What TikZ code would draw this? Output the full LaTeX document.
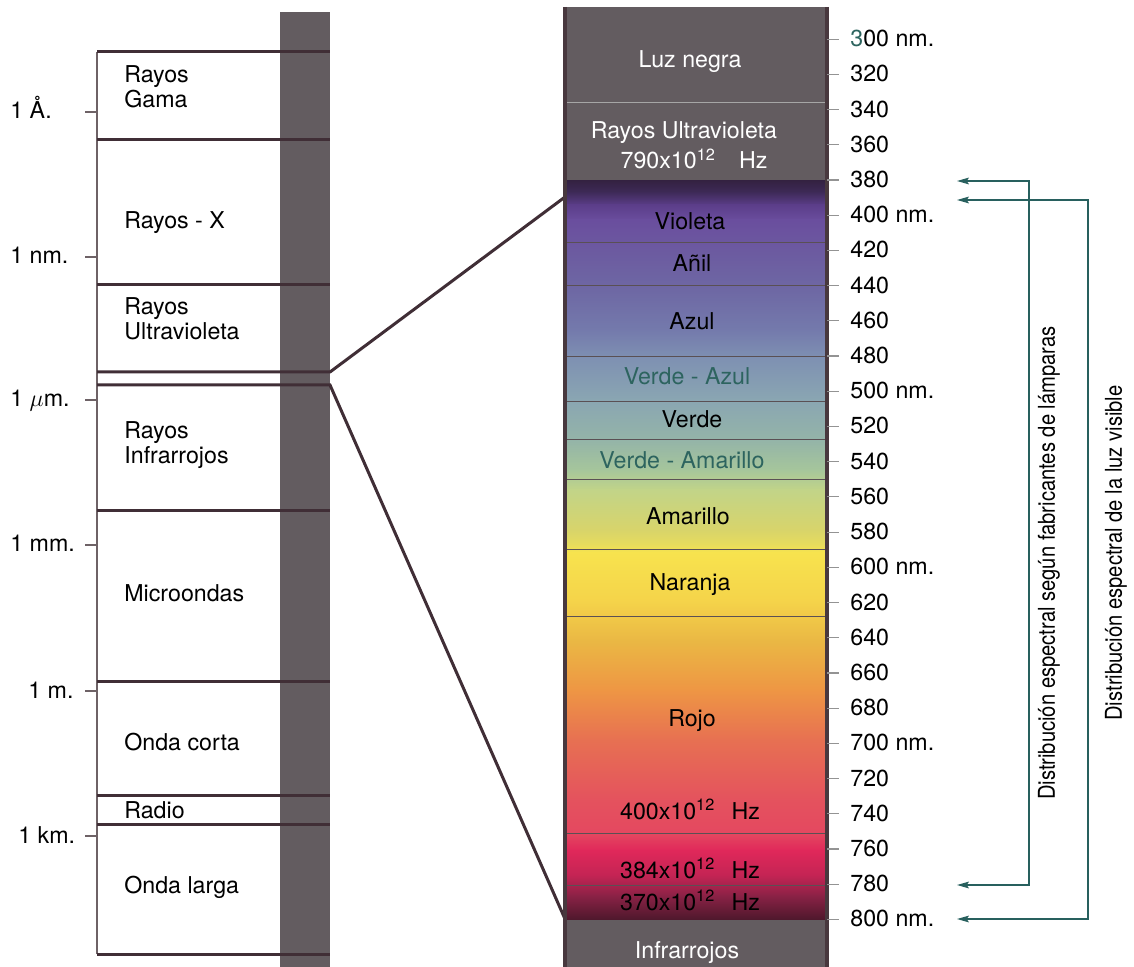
\documentclass[tikz,border=0pt]{standalone}
\usepackage{fontspec}
\setmainfont{TeX Gyre Heros}
\newfontfamily\estrecha[FakeStretch=0.87]{TeX Gyre Heros}
\usetikzlibrary{positioning, arrows.meta}
\definecolor{barra}{RGB}{99,92,96}
\definecolor{lineaosc}{RGB}{64,46,54}
\definecolor{lineagris}{RGB}{110,98,102}
\definecolor{bandagris}{RGB}{90,80,84}
\definecolor{marcoosc}{RGB}{72,56,62}
\definecolor{verdeazul}{RGB}{45,100,95}
\definecolor{verdeflecha}{RGB}{40,96,94}
% colores del espectro
\definecolor{c181}{RGB}{52,34,66}
\definecolor{c192}{RGB}{62,42,88}
\definecolor{c205}{RGB}{92,62,138}
\definecolor{c220}{RGB}{106,78,158}
\definecolor{c250}{RGB}{108,90,160}
\definecolor{c290}{RGB}{110,104,164}
\definecolor{c330}{RGB}{116,122,172}
\definecolor{c357}{RGB}{126,144,178}
\definecolor{c400}{RGB}{138,166,178}
\definecolor{c440}{RGB}{148,180,168}
\definecolor{c470}{RGB}{166,198,155}
\definecolor{c490}{RGB}{194,212,136}
\definecolor{c530}{RGB}{216,212,106}
\definecolor{c545}{RGB}{232,220,92}
\definecolor{c552}{RGB}{247,227,78}
\definecolor{c600}{RGB}{245,212,74}
\definecolor{c640}{RGB}{234,184,68}
\definecolor{c690}{RGB}{238,150,68}
\definecolor{c740}{RGB}{231,112,82}
\definecolor{c800}{RGB}{228,82,94}
\definecolor{c833}{RGB}{228,72,96}
\definecolor{c850}{RGB}{224,40,90}
\definecolor{c875}{RGB}{196,36,84}
\definecolor{c895}{RGB}{140,34,70}
\definecolor{c919}{RGB}{78,24,44}
\tikzset{
texto/.style={
  font=\fontsize{11.6}{12.25}\selectfont,
  inner sep=0pt, align=left
  },
claro/.style={texto, text=white, anchor=base},
espectro/.style={texto, anchor=base},
girado/.style={font=\estrecha\fontsize{11.6}{12}\selectfont, inner sep=0pt, rotate=90},
limite/.style={draw=lineaosc, line width=1.5pt},
guia/.style={draw=lineagris, line width=0.75pt},
marcador/.style={draw=gray!85, line width=0.6pt},
banda/.style={draw=bandagris, line width=0.5pt},
marco/.style={draw=marcoosc, line width=2pt},
flecha/.style={<->, >={Stealth[length=6pt,width=3.4pt,inset=1.2pt]}, draw=verdeflecha, line width=0.6pt}
}
\begin{document}
\begin{tikzpicture}[x=0.5pt, y=-0.5pt]
\useasboundingbox (0,0) rectangle (1134,967);

% escala de longitudes de onda
\fill[barra] (280,12) rectangle (330,967);
\draw[guia] (97,52) -- (97,954);
\foreach \y in {52,140,285,510,681,795,824,954}
  \draw[limite] (97,\y) -- (330,\y);
\foreach \y/\x/\t in {112/10/{1 Å.}, 257/10/{1 nm.}, 400/10/{1 $\mu$m.}, 545/10/{1 mm.}, 691/28/{1 m.}, 836/18/{1 km.}}{
  \draw[guia] (85,\y) -- (97,\y);
  \node[texto, anchor=base west] (esc\y) at (\x,\y+7) {\t};
}

\node[texto, anchor=west]      (gama)    at (124,87)  {Rayos\\Gama};
\node[texto, anchor=base west] (rayosx)  at (124,229) {Rayos - X};
\node[texto, anchor=west]      (ultra)   at (124,319) {Rayos\\Ultravioleta};
\node[texto, anchor=west]      (infra)   at (124,445) {Rayos\\Infrarrojos};
\node[texto, anchor=base west] (micro)   at (124,601) {Microondas};
\node[texto, anchor=base west] (corta)   at (124,750) {Onda corta};
\node[texto, anchor=base west] (radio)   at (124,818) {Radio};
\node[texto, anchor=base west] (larga)   at (124,893) {Onda larga};

% columna del espectro
\fill[barra] (565,7) rectangle (827,181);
\fill[barra] (565,919) rectangle (827,967);
\draw[banda, draw=gray!70] (565,103) -- (827,103);
\foreach \ya/\yb in {181/192,192/205,205/220,220/250,250/290,290/330,330/357,357/400,400/440,440/470,470/490,490/530,530/545,545/552,552/600,600/640,640/690,690/740,740/800,800/833,833/850,850/875,875/895,895/919}
  \shade[top color=c\ya, bottom color=c\yb] (565,\ya) rectangle (827,\yb+0.6);
\foreach \y in {243,286,357,402,440,480,549,616,833,885}
  \draw[banda] (565,\y) -- (827,\y);

% lineas de ampliacion
\coordinate (uvizq) at (330,372);
\coordinate (uvder) at (565,197);
\coordinate (irizq) at (330,385);
\coordinate (irder) at (565,919);
\draw[limite] (97,372) -- (uvizq) -- (uvder);
\draw[limite] (97,385) -- (irizq) -- (irder);

\draw[marco] (565,7) -- (565,967);
\draw[marco] (827,7) -- (827,967);

\node[claro]    (negra)   at (690,68)  {Luz negra};
\node[claro]    (uvtxt)   at (684,139) {Rayos Ultravioleta};
\node[claro]    (uvhz)    at (694,169) {790x10\textsuperscript{12}\quad Hz};
\node[espectro] (violeta) at (690,230) {Violeta};
\node[espectro] (anil)    at (692,272) {Añil};
\node[espectro] (azul)    at (692,330) {Azul};
\node[espectro, text=verdeazul] (verdeazul) at (687,385) {Verde - Azul};
\node[espectro] (verde)   at (692,428) {Verde};
\node[espectro, text=verdeazul] (verdeamar) at (682,469) {Verde - Amarillo};
\node[espectro] (amarillo) at (688,524) {Amarillo};
\node[espectro] (naranja) at (690,590) {Naranja};
\node[espectro] (rojo)    at (692,726) {Rojo};
\node[espectro] (hz400)   at (690,819) {400x10\textsuperscript{12}\hspace{.7em}Hz};
\node[espectro] (hz384)   at (690,878) {384x10\textsuperscript{12}\hspace{.7em}Hz};
\node[espectro] (hz370)   at (690,910) {370x10\textsuperscript{12}\hspace{.7em}Hz};
\node[claro]    (irtxt)   at (687,958) {Infrarrojos};

% escala en nm
\foreach \n in {0,...,25}{
  \pgfmathtruncatemacro\v{300+20*\n}
  \pgfmathsetmacro\y{39.3+35.2*\n}
  \pgfmathtruncatemacro\r{mod(\v,100)}
  \draw[marcador] (827,\y) -- (839,\y);
  \ifnum\v=300
    \node[texto, anchor=base west] (nm\v) at (850,\y+7.5) {\textcolor{verdeazul}{3}00 nm.};
  \else\ifnum\r=0
    \node[texto, anchor=base west] (nm\v) at (850,\y+7.5) {\v\ nm.};
  \else
    \node[texto, anchor=base west] (nm\v) at (850,\y+7.5) {\v};
  \fi\fi
}

% distribuciones
\coordinate (p380) at (957,181);
\coordinate (p390) at (957,200);
\coordinate (p780) at (957,885);
\coordinate (p800) at (957,919);
\coordinate (lamp) at (1029,533);
\coordinate (visi) at (1088,560);
\draw[flecha] (p380) -| (lamp) |- (p780);
\draw[flecha] (p390) -| (visi) |- (p800);

\node[girado] (txtlamp) at (1049,563) {Distribución espectral según fabricantes de lámparas};
\node[girado] (txtvisi) at (1116,553) {Distribución espectral de la luz visible};
\end{tikzpicture}
\end{document}
